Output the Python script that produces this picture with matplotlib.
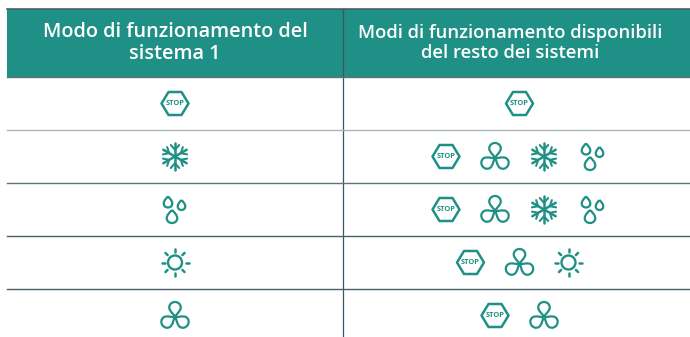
import numpy as np
import matplotlib
matplotlib.use('Agg')
import matplotlib.pyplot as plt
from matplotlib.path import Path
from matplotlib.patches import PathPatch, Polygon, Circle, Rectangle
from matplotlib.transforms import Affine2D

headers = ['Modo di funzionamento del\nsistema 1', 'Modi di funzionamento disponibili\ndel resto dei sistemi']
left_modes = ['stop', 'snow', 'drops', 'sun', 'fan']
right_modes = [['stop'],
               ['stop', 'fan', 'snow', 'drops'],
               ['stop', 'fan', 'snow', 'drops'],
               ['stop', 'fan', 'sun'],
               ['stop', 'fan']]

TEAL = '#1f9085'
DARK = '#4b5f68'
row_tops = [77, 130, 183, 236, 289]
row_h = 53
line_cols = ['#5f7378', '#a9b5b8', '#5f7378', '#4b5f68', '#4b5f68']
left_c = 175
right_c = 519.5
step = 49
lw = 1.6


def teardrop(w, h, sharp=0.22):
    # tip at the origin, round end upwards (y axis points down)
    return Path([(0, 0), (-sharp*w, -0.18*h), (-0.5*w, -0.38*h), (-0.5*w, -0.64*h),
                 (-0.5*w, -0.85*h), (-0.28*w, -h), (0, -h),
                 (0.28*w, -h), (0.5*w, -0.85*h), (0.5*w, -0.64*h),
                 (0.5*w, -0.38*h), (sharp*w, -0.18*h), (0, 0)],
                [Path.MOVETO] + [Path.CURVE4]*12)


def add_path(ax, p, tr):
    ax.add_patch(PathPatch(p, fc='none', ec=TEAL, lw=lw, transform=tr + ax.transData, joinstyle='round'))


def draw_stop(ax, x, y):
    pts = np.array([(-13.5, 0), (-6.5, -11.5), (6.5, -11.5), (13.5, 0), (6.5, 11.5), (-6.5, 11.5)])
    ax.add_patch(Polygon(pts + (x, y), closed=True, fc='none', ec=TEAL, lw=1.8, joinstyle='round'))
    ax.text(x, y + 0.3, 'STOP', color=TEAL, fontsize=5.4, fontweight='bold', ha='center', va='center', family='Open Sans')


def draw_fan(ax, x, y):
    for ang in [0, 122, -122]:
        tr = Affine2D().rotate_deg(ang).translate(x, y + 1.5)
        add_path(ax, teardrop(11.5, 15, sharp=0.08), tr)


def draw_snow(ax, x, y):
    r = 13.5
    for ang in range(0, 360, 60):
        tr = Affine2D().rotate_deg(ang).translate(x, y)
        ax.plot(*tr.transform([(0, 0), (0, -r)]).T, color=TEAL, lw=1.8, solid_capstyle='round')
        for s in [-1, 1]:
            ax.plot(*tr.transform([(0, -r*0.5), (s*4.2, -r*0.85)]).T, color=TEAL, lw=1.5, solid_capstyle='round')


def draw_drops(ax, x, y):
    # round end downwards, so the teardrops are flipped
    for dx, top, w, h in [(-7, -13, 8.5, 11), (6.5, -9.5, 7.5, 10), (-3, 0.5, 10.5, 13)]:
        tr = Affine2D().scale(1, -1).translate(x + dx, y + top)
        add_path(ax, teardrop(w, h), tr)


def draw_sun(ax, x, y):
    ax.add_patch(Circle((x, y), 7, fc='none', ec=TEAL, lw=1.7))
    for ang in range(0, 360, 45):
        tr = Affine2D().rotate_deg(ang).translate(x, y)
        ax.plot(*tr.transform([(0, -10.5), (0, -13.5)]).T, color=TEAL, lw=1.8, solid_capstyle='round')


icons = {'stop': draw_stop, 'fan': draw_fan, 'snow': draw_snow, 'drops': draw_drops, 'sun': draw_sun}

fig = plt.figure(figsize=(6.9, 3.37), dpi=100)
ax = fig.add_axes([0, 0, 1, 1])
ax.set_xlim(0, 690)
ax.set_ylim(337, 0)
ax.axis('off')

# header band
ax.add_patch(Rectangle((7, 9), 683, 68, fc=TEAL, ec='none'))
ax.plot([7, 690], [8.5, 8.5], color=DARK, lw=1.2)
ax.plot([343.2, 343.2], [9, 337], color='#3f5560', lw=0.9)

ax.text(left_c, 43, headers[0], color='white', fontsize=14.3, fontweight=600, ha='center', va='center',
        family='Open Sans', linespacing=1.12)
ax.text(510, 43, headers[1], color='white', fontsize=13.3, fontweight=600, ha='center', va='center',
        family='Open Sans', linespacing=1.2)

for i, t in enumerate(row_tops):
    ax.plot([7, 690], [t - 0.2, t - 0.2], color=line_cols[i], lw=1.0)
    cy = t + row_h / 2
    icons[left_modes[i]](ax, left_c, cy)
    n = len(right_modes[i])
    for j, m in enumerate(right_modes[i]):
        icons[m](ax, right_c + (j - (n - 1) / 2) * step, cy)

fig.savefig('out.png', dpi=100)
